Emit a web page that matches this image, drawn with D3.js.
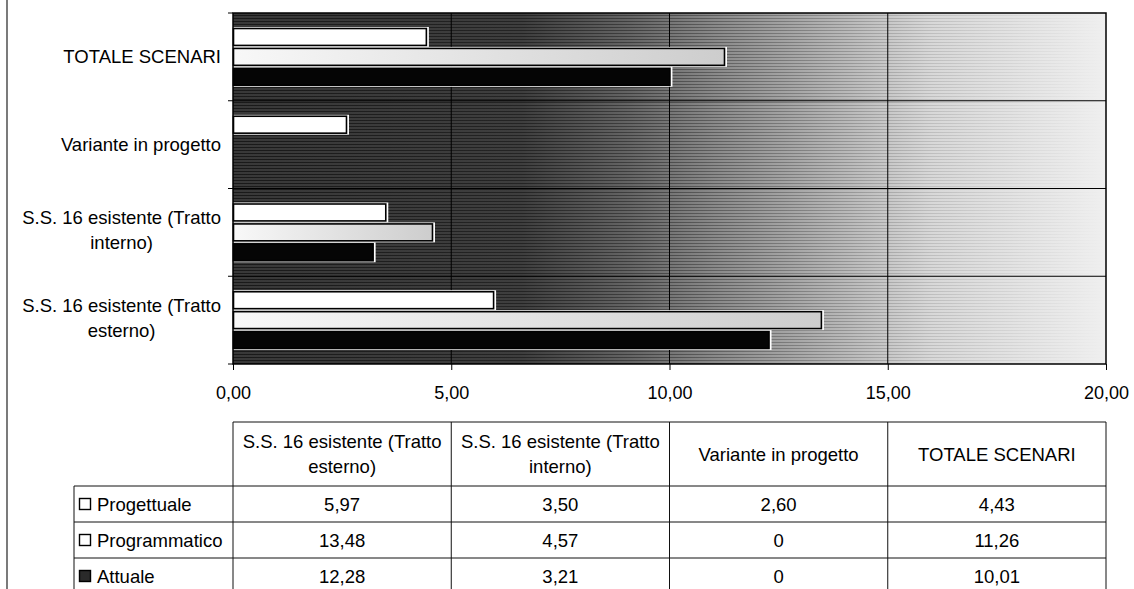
<!DOCTYPE html>
<html>
<head>
<meta charset="utf-8">
<script src="https://cdn.jsdelivr.net/npm/d3@7/dist/d3.min.js"></script>
<style>
  html, body { margin: 0; padding: 0; background: #fff; }
  svg { display: block; font-family: "Liberation Sans", Arial, sans-serif; }
</style>
</head>
<body>
<script>
// Categories (table column order: bottom-to-top in the chart)
const categories = [
  "S.S. 16 esistente (Tratto esterno)",
  "S.S. 16 esistente (Tratto interno)",
  "Variante in progetto",
  "TOTALE SCENARI"
];
const seriesNames = ["Progettuale", "Programmatico", "Attuale"];
const progettuale   = [5.97, 3.50, 2.60, 4.43];
const programmatico = [13.48, 4.57, 0, 11.26];
const attuale       = [12.28, 3.21, 0, 10.01];
const valueTicks = [0, 5, 10, 15, 20];

const seriesValues = [progettuale, programmatico, attuale];

const W = 1134, H = 589;
const plot = { left: 233, right: 1106, top: 13, bottom: 364 };
const FS = 18.5;      // label / table font size
const TICK_FS = 18;   // value axis font size

const it = d3.formatLocale({ decimal: ",", thousands: ".", grouping: [3], currency: ["€", ""] });
const fmt2 = it.format(".2f");
const cellFmt = v => v === 0 ? "0" : fmt2(v);

const svg = d3.select("body").append("svg").attr("width", W).attr("height", H);
const defs = svg.append("defs");

// Plot area background: dark on the left fading to white on the right
const bg = defs.append("linearGradient").attr("id", "bgGrad")
  .attr("x1", "0%").attr("x2", "100%").attr("y1", "0%").attr("y2", "0%");
[[0, "#383838"], [0.33, "#3e3e3e"], [0.45, "#636363"], [0.55, "#898989"],
 [0.68, "#b2b2b2"], [0.8, "#d8d8d8"], [1, "#efefef"]]
  .forEach(([o, c]) => bg.append("stop").attr("offset", o).attr("stop-color", c));

// Fine horizontal hatching over the background, fading out to the right
const hatch = defs.append("pattern").attr("id", "hatch")
  .attr("patternUnits", "userSpaceOnUse").attr("width", 6).attr("height", 3);
hatch.append("rect").attr("width", 6).attr("height", 1).attr("fill", "#000");
const fade = defs.append("linearGradient").attr("id", "fadeGrad")
  .attr("x1", "0%").attr("x2", "100%").attr("y1", "0%").attr("y2", "0%");
fade.append("stop").attr("offset", 0).attr("stop-color", "#fff").attr("stop-opacity", 0.55);
fade.append("stop").attr("offset", 0.5).attr("stop-color", "#fff").attr("stop-opacity", 0.35);
fade.append("stop").attr("offset", 0.85).attr("stop-color", "#fff").attr("stop-opacity", 0.08);
fade.append("stop").attr("offset", 1).attr("stop-color", "#fff").attr("stop-opacity", 0);
const mask = defs.append("mask").attr("id", "fadeMask")
  .attr("maskUnits", "userSpaceOnUse")
  .attr("x", plot.left).attr("y", plot.top)
  .attr("width", plot.right - plot.left).attr("height", plot.bottom - plot.top);
mask.append("rect")
  .attr("x", plot.left).attr("y", plot.top)
  .attr("width", plot.right - plot.left).attr("height", plot.bottom - plot.top)
  .attr("fill", "url(#fadeGrad)");

// Programmatico bars: light fill darkening toward the bar end
const pg = defs.append("linearGradient").attr("id", "progGrad")
  .attr("x1", "0%").attr("x2", "100%").attr("y1", "0%").attr("y2", "0%");
pg.append("stop").attr("offset", 0).attr("stop-color", "#f8f8f8");
pg.append("stop").attr("offset", 1).attr("stop-color", "#cdcdcd");

const fills = ["#ffffff", "url(#progGrad)", "#050505"];
const swatchFills = ["#ffffff", "#ffffff", "#2a2a2a"];

// Scales
const x = d3.scaleLinear().domain([0, 20]).range([plot.left, plot.right]);
const y = d3.scaleBand().domain([...categories].reverse())
  .range([plot.top, plot.bottom]).paddingInner(0).paddingOuter(0);
const groupPad = 14;
const ySub = d3.scaleBand().domain(seriesNames)
  .range([groupPad, y.bandwidth() - groupPad]);

// Page edge line on the left
svg.append("line").attr("x1", 7).attr("x2", 7).attr("y1", 0).attr("y2", H)
  .attr("stroke", "#333").attr("stroke-width", 1.3);

// Background
const plotW = plot.right - plot.left, plotH = plot.bottom - plot.top;
svg.append("rect")
  .attr("x", plot.left).attr("y", plot.top).attr("width", plotW).attr("height", plotH)
  .attr("fill", "url(#bgGrad)");
svg.append("rect")
  .attr("x", plot.left).attr("y", plot.top).attr("width", plotW).attr("height", plotH)
  .attr("fill", "url(#hatch)").attr("mask", "url(#fadeMask)");

// Vertical gridlines (value axis)
svg.append("g").selectAll("line").data(valueTicks.slice(1, -1)).join("line")
  .attr("x1", d => x(d)).attr("x2", d => x(d))
  .attr("y1", plot.top).attr("y2", plot.bottom)
  .attr("stroke", "#000").attr("stroke-width", 1);

// Horizontal gridlines at category boundaries
const bounds = y.domain().slice(1).map(c => y(c));
svg.append("g").selectAll("line").data(bounds).join("line")
  .attr("x1", plot.left).attr("x2", plot.right)
  .attr("y1", d => d).attr("y2", d => d)
  .attr("stroke", "#000").attr("stroke-width", 1);

// Bars
const barData = [];
categories.forEach((c, ci) => {
  seriesNames.forEach((s, si) => {
    barData.push({ cat: c, series: s, si, value: seriesValues[si][ci] });
  });
});
const bars = svg.append("g").selectAll("g").data(barData.filter(d => d.value > 0)).join("g");
// white halo
bars.append("rect")
  .attr("x", plot.left)
  .attr("y", d => y(d.cat) + ySub(d.series))
  .attr("width", d => x(d.value) - x(0) + 2.5)
  .attr("height", ySub.bandwidth())
  .attr("fill", "#fff");
// bar body
bars.append("rect")
  .attr("x", plot.left + 0.5)
  .attr("y", d => y(d.cat) + ySub(d.series) + 1.5)
  .attr("width", d => x(d.value) - x(0) - 0.5)
  .attr("height", ySub.bandwidth() - 3)
  .attr("fill", d => fills[d.si])
  .attr("stroke", "#000").attr("stroke-width", 1.6);

// Plot frame
svg.append("rect")
  .attr("x", plot.left).attr("y", plot.top).attr("width", plotW).attr("height", plotH)
  .attr("fill", "none").attr("stroke", "#000").attr("stroke-width", 1.5);

// Value axis
const xAxis = svg.append("g").attr("transform", `translate(0,${plot.bottom})`)
  .call(d3.axisBottom(x).tickValues(valueTicks).tickFormat(fmt2).tickSize(6).tickPadding(16));
xAxis.select(".domain").remove();
xAxis.selectAll("line").attr("stroke", "#000");
xAxis.selectAll("text").attr("font-size", TICK_FS).attr("fill", "#000")
  .attr("font-family", "'Liberation Sans', Arial, sans-serif");

// Category axis ticks
svg.append("g").selectAll("line").data([plot.top, ...bounds, plot.bottom]).join("line")
  .attr("x1", plot.left - 5).attr("x2", plot.left)
  .attr("y1", d => d).attr("y2", d => d)
  .attr("stroke", "#000").attr("stroke-width", 1);

// Word wrap helper
const measurer = svg.append("text").attr("font-size", FS).attr("visibility", "hidden");
function textWidth(s) { measurer.text(s); return measurer.node().getComputedTextLength(); }
function wrap(str, maxW) {
  const words = str.split(" ");
  const lines = [];
  let cur = "";
  words.forEach(w => {
    const t = cur ? cur + " " + w : w;
    if (textWidth(t) > maxW && cur) {
      lines.push(cur); cur = w;
    } else cur = t;
  });
  if (cur) lines.push(cur);
  return lines;
}

// Category labels: text block right-aligned to the axis, lines centred in the block
const labelRight = 221;
categories.forEach(c => {
  const lines = wrap(c, 215);
  const blockW = d3.max(lines, textWidth);
  const bx = labelRight - blockW / 2;
  const cy = y(c) + y.bandwidth() / 2;
  const t = svg.append("text").attr("text-anchor", "middle").attr("font-size", FS).attr("fill", "#000");
  const lh = 25;
  const y0 = cy + 6.5 - (lines.length - 1) * lh / 2 - (lines.length > 1 ? 2.5 : 0);
  lines.forEach((l, i) => t.append("tspan").attr("x", bx).attr("y", y0 + i * lh).text(l));
});

// Data table
const table = { top: 422, headerH: 64, rowH: 36, labelLeft: 74 };
const colEdges = valueTicks.map(v => x(v));
const tg = svg.append("g").attr("stroke", "#111").attr("stroke-width", 1);
const tableBottom = table.top + table.headerH + table.rowH * 3;
// header top and column lines
tg.append("line").attr("x1", colEdges[0]).attr("x2", colEdges[4])
  .attr("y1", table.top).attr("y2", table.top);
colEdges.forEach(cx => tg.append("line").attr("x1", cx).attr("x2", cx)
  .attr("y1", table.top).attr("y2", tableBottom));
// row lines
[0, 1, 2].forEach(r => {
  const ry = table.top + table.headerH + r * table.rowH;
  tg.append("line").attr("x1", table.labelLeft).attr("x2", colEdges[4])
    .attr("y1", ry).attr("y2", ry);
});
tg.append("line").attr("x1", table.labelLeft).attr("x2", table.labelLeft)
  .attr("y1", table.top + table.headerH).attr("y2", tableBottom);

// header texts
categories.forEach((c, ci) => {
  const cx = (colEdges[ci] + colEdges[ci + 1]) / 2;
  const lines = wrap(c, 214);
  const cy = table.top + table.headerH / 2;
  const lh = 25;
  const y0 = cy + 6.5 - (lines.length - 1) * lh / 2;
  const t = svg.append("text").attr("text-anchor", "middle").attr("font-size", FS).attr("fill", "#000");
  lines.forEach((l, i) => t.append("tspan").attr("x", cx).attr("y", y0 + i * lh).text(l));
});

// rows
seriesNames.forEach((s, si) => {
  const rowTop = table.top + table.headerH + si * table.rowH;
  const cy = rowTop + table.rowH / 2;
  svg.append("rect").attr("x", 79.5).attr("y", cy - 5.5).attr("width", 11).attr("height", 11)
    .attr("fill", swatchFills[si]).attr("stroke", "#000").attr("stroke-width", 1.4);
  svg.append("text").attr("x", 97).attr("y", cy + 6.5).attr("font-size", FS).attr("fill", "#000").text(s);
  seriesValues[si].forEach((v, ci) => {
    const cx = (colEdges[ci] + colEdges[ci + 1]) / 2;
    svg.append("text").attr("x", cx).attr("y", cy + 6.5).attr("text-anchor", "middle")
      .attr("font-size", FS).attr("fill", "#000").text(cellFmt(v));
  });
});
measurer.remove();
</script>
</body>
</html>
